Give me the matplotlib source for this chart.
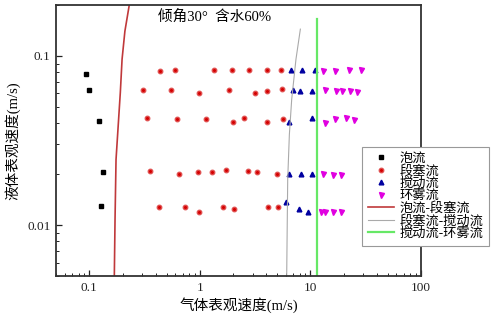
import matplotlib
matplotlib.use("Agg")
import matplotlib.pyplot as plt
from matplotlib.ticker import LogLocator, NullFormatter, FixedLocator, FixedFormatter

FONTS = ["Liberation Serif", "Noto Sans CJK SC"]
plt.rcParams["font.family"] = FONTS
plt.rcParams["axes.unicode_minus"] = False

# 泡流
bubble_x = [0.0936, 0.0990, 0.1234, 0.1332, 0.1286]
bubble_y = [0.0782, 0.0629, 0.0414, 0.0206, 0.0130]

# 段塞流
slug_x = [0.433, 0.599, 1.338, 1.973, 2.809, 4.05, 5.38,
          0.304, 0.551, 0.979, 1.827, 3.17, 4.08, 5.58,
          0.334, 0.620, 1.133, 2.015, 2.532, 4.08, 5.61,
          0.356, 0.642, 0.953, 1.275, 1.717, 2.729, 3.27, 5.03,
          0.424, 0.732, 0.986, 1.636, 2.027, 4.13, 5.09]
slug_y = [0.0815, 0.0823, 0.0823, 0.0826, 0.0826, 0.0823, 0.0826,
          0.0629, 0.0632, 0.0607, 0.0632, 0.0604, 0.0623, 0.0637,
          0.0427, 0.0421, 0.0425, 0.0404, 0.0427, 0.0408, 0.0423,
          0.0208, 0.0201, 0.0206, 0.0206, 0.0212, 0.0210, 0.0207, 0.0201,
          0.0128, 0.0128, 0.0119, 0.0128, 0.0124, 0.0128, 0.0128]

# 搅动流
churn_x = [6.63, 8.33, 10.98, 7.01, 8.04, 10.31, 6.45, 10.25,
           6.45, 8.28, 10.31, 5.97, 7.83, 9.43]
churn_y = [0.0826, 0.0826, 0.0823, 0.0626, 0.0618, 0.0618, 0.0404, 0.0427,
           0.0201, 0.0201, 0.0201, 0.0136, 0.0125, 0.0119]

# 环雾流
annular_x = [12.89, 16.64, 22.44, 28.57,
             13.52, 16.99, 19.12, 22.91, 26.50,
             13.52, 16.64, 20.78, 24.54,
             12.97, 15.86, 19.01,
             12.44, 13.63, 15.96, 18.85]
annular_y = [0.0819, 0.0815, 0.0823, 0.0826,
             0.0626, 0.0620, 0.0620, 0.0618, 0.0612,
             0.0403, 0.0425, 0.0431, 0.0417,
             0.0200, 0.0199, 0.0199,
             0.0119, 0.0119, 0.0119, 0.0119]

# 转变边界
b_s_x = [0.230, 0.210, 0.198, 0.191, 0.1746, 0.171, 0.1685]
b_s_y = [0.200, 0.140, 0.0956, 0.0610, 0.0244, 0.01074, 0.005]
s_c_x = [8.11, 7.40, 6.77, 6.45, 6.23, 6.10]
s_c_y = [0.144, 0.0956, 0.0553, 0.0343, 0.0186, 0.005]
c_a_x = [11.38, 11.38]
c_a_y = [0.165, 0.005]

fig = plt.figure(figsize=(4.98, 3.18), dpi=100)
ax = fig.add_axes([0.1124, 0.1321, 0.7330, 0.8522])

ax.plot(bubble_x, bubble_y, "s", color="black", ms=2.6, label="泡流")
ax.plot(slug_x, slug_y, "o", color="#d40000", mec="#e05050", ms=3.2, label="段塞流")
ax.plot(churn_x, churn_y, "^", color="#0000a0", ms=3.4, label="搅动流")
ax.plot(annular_x, annular_y, "v", color="#e000e0", ms=3.6, label="环雾流")
ax.plot(b_s_x, b_s_y, "-", color="#c0393b", lw=1.2, label="泡流-段塞流")
ax.plot(s_c_x, s_c_y, "-", color="#aaaaaa", lw=0.8, label="段塞流-搅动流")
ax.plot(c_a_x, c_a_y, "-", color="#66e866", lw=1.6, label="搅动流-环雾流")

ax.set_xscale("log")
ax.set_yscale("log")
ax.set_xlim(0.05, 100)
ax.set_ylim(0.005, 0.2)

ax.xaxis.set_major_locator(FixedLocator([0.1, 1, 10, 100]))
ax.xaxis.set_major_formatter(FixedFormatter(["0.1", "1", "10", "100"]))
ax.xaxis.set_minor_locator(LogLocator(base=10, subs=range(2, 10)))
ax.xaxis.set_minor_formatter(NullFormatter())
ax.yaxis.set_major_locator(FixedLocator([0.01, 0.1]))
ax.yaxis.set_major_formatter(FixedFormatter(["0.01", "0.1"]))
ax.yaxis.set_minor_locator(LogLocator(base=10, subs=range(2, 10)))
ax.yaxis.set_minor_formatter(NullFormatter())

ax.tick_params(which="both", direction="in", top=False, right=False,
               colors="#222222", labelsize=9.5)
ax.tick_params(which="major", length=4.5, width=0.9, pad=4)
ax.tick_params(which="minor", length=2.5, width=0.7)
for sp in ax.spines.values():
    sp.set_color("#333333")
    sp.set_linewidth(1.3)

ax.set_xlabel("气体表观速度(m/s)", fontsize=10.5, labelpad=3)
ax.set_ylabel("液体表观速度(m/s)", fontsize=10.5)
ax.yaxis.set_label_coords(-0.098, 0.5)

ax.text(0.435, 0.955, "倾角30°  含水60%", transform=ax.transAxes,
        fontsize=10.5, ha="center", va="center")

leg = ax.legend(loc="upper left", bbox_to_anchor=(0.7263, 0.5387),
                bbox_transform=fig.transFigure, fontsize=9.5, frameon=True,
                fancybox=False, edgecolor="#999999", framealpha=1,
                borderpad=0.45, labelspacing=0.0, handlelength=2.0,
                handletextpad=0.4, borderaxespad=0, markerscale=1.0)
leg.get_frame().set_linewidth(0.8)

fig.savefig("out.png", dpi=100)
